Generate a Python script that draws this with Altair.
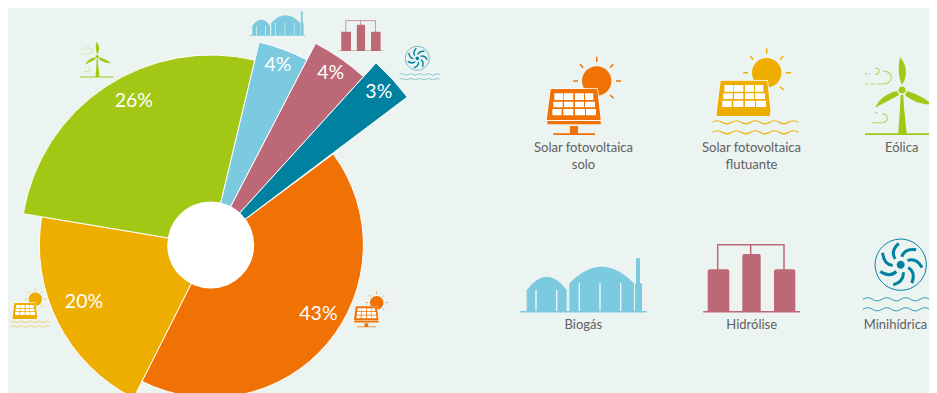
import math
import altair as alt
import pandas as pd

# ---------- data ----------
categories = ["Solar fotovoltaica solo", "Solar fotovoltaica flutuante", "Eólica", "Biogás", "Hidrólise", "Minihídrica"]
shares = [42.6, 20.2, 26.1, 3.9, 4.1, 3.0]
share_labels = ["43%", "20%", "26%", "4%", "4%", "3%"]
reach_rank = [0, 1, 2, 3, 4, 5]
colors = ["#f07204", "#eeae00", "#a2c815", "#7bcadf", "#bd6877", "#0081a0"]

BG = "#ecf4f1"
FONT = "Lato"
OX, OY = 8, 8   # page margin
W, H = 921, 385
CX, CY = 210.7 - OX, 245 - OY

starts, ends, mids = [], [], []
c = 0.0
for s in shares:
    starts.append(c)
    ends.append(c + s)
    mids.append(c + s / 2)
    c += s
pie = pd.DataFrame({"cat": categories, "start": starts, "end": ends, "mid": mids,
                    "rank": reach_rank, "label": share_labels})

A0 = math.radians(53.4)
theta_scale = alt.Scale(domain=[0, 100], range=[A0, A0 + 2 * math.pi])
color_scale = alt.Scale(domain=categories, range=colors)

arcs = alt.Chart(pie).mark_arc(stroke="#ffffff", strokeWidth=1).encode(
    x=alt.value(CX), y=alt.value(CY),
    theta=alt.Theta("start:Q", scale=theta_scale, stack=None),
    theta2="end:Q",
    radius=alt.Radius("rank:Q", scale=alt.Scale(type="linear", zero=False, domain=[0, 5], range=[152.7, 246])),
    radius2=alt.value(0),
    color=alt.Color("cat:N", scale=color_scale, legend=None),
)
hole = alt.Chart(pie.head(1)).mark_circle(size=7569, color="#ffffff", opacity=1).encode(
    x=alt.value(CX), y=alt.value(CY))

# label radius along the slice's mid angle, and small nudges
label_place = [(127.3, 10.3, -13.3), (138.8, -2.9, -5.7), (162.4, 12.9, -8.6),
               (192.2, 0, 0), (209.9, 0, 0), (227.5, 0, 0)]
layers = [arcs, hole]
for i, (r, ndx, ndy) in enumerate(label_place):
    layers.append(
        alt.Chart(pie.iloc[[i]]).mark_text(font=FONT, fontSize=19.5, color="#ffffff", align="center",
                                           baseline="middle", dx=ndx, dy=ndy).encode(
            x=alt.value(CX), y=alt.value(CY),
            theta=alt.Theta("mid:Q", scale=theta_scale, stack=None),
            radius=alt.value(r),
            text="label:N",
        ))


# ---------- icon helpers (paths in the big icon's page pixels) ----------
def rect(x0, y0, x1, y1):
    return [("M", [(x0, y0)]), ("L", [(x1, y0)]), ("L", [(x1, y1)]), ("L", [(x0, y1)]), ("Z", [])]

def poly(pts):
    return [("M", [pts[0]])] + [("L", [p]) for p in pts[1:]] + [("Z", [])]

def line(*pts):
    return [("M", [pts[0]])] + [("L", [p]) for p in pts[1:]]

def circle(cx, cy, r):
    k = 0.5523 * r
    return [("M", [(cx + r, cy)]),
            ("C", [(cx + r, cy + k), (cx + k, cy + r), (cx, cy + r)]),
            ("C", [(cx - k, cy + r), (cx - r, cy + k), (cx - r, cy)]),
            ("C", [(cx - r, cy - k), (cx - k, cy - r), (cx, cy - r)]),
            ("C", [(cx + k, cy - r), (cx + r, cy - k), (cx + r, cy)]), ("Z", [])]

def wave(x0, x1, y, period=19.0, amp=1.6):
    cmds = [("M", [(x0, y)])]
    x, sign = x0, -1
    while x < x1:
        cmds.append(("Q", [(x + period / 4, y + sign * 2 * amp), (x + period / 2, y)]))
        x += period / 2
        sign = -sign
    return cmds

def to_d(cmds, ax, ay):
    out = []
    for c_, pts in cmds:
        coords = " ".join(f"{(x - ax) / 100:.5f} {(y - ay) / 100:.5f}" for x, y in pts)
        out.append(f"{c_}{coords}")
    return " ".join(out)

def merge(*paths):
    res = []
    for p in paths:
        res += p
    return res

def solar_parts(col, dx, dy, lower):
    sx, sy = 596.7 + dx, 81 + dy
    rays = merge(
        line((sx, sy - 24.3), (sx, sy - 19.3)), line((sx - 23.4, sy), (sx - 18.7, sy)),
        line((sx + 19.3, sy), (sx + 24.3, sy)), line((sx - 16.7, sy - 16.7), (sx - 13.4, sy - 13.3)),
        line((sx + 16.6, sy - 16.7), (sx + 13.3, sy - 13.3)), line((sx + 13.3, sy + 14), (sx + 17, sy + 17.3)))
    white_q = [(550.2 + dx, 88.3 + dy), (597.9 + dx, 88.3 + dy), (601.6 + dx, 120.8 + dy), (545.8 + dx, 120.8 + dy)]
    quad = [(550.7 + dx, 89 + dy), (597.3 + dx, 89 + dy), (600.7 + dx, 120 + dy), (546.7 + dx, 120 + dy)]
    rows = [(160, 180, [(133, 160), (162, 190), (195, 222), (225, 250)]),
            (185, 202, [(130, 158), (162, 190), (195, 222), (225, 255)]),
            (207, 226, [(127, 155), (160, 190), (195, 225), (228, 258)])]
    cells = []
    for y0, y1, xs in rows:
        for x0, x1 in xs:
            cells += rect(510 + x0 / 3 + dx, 40 + y0 / 3 + dy, 510 + x1 / 3 + dx, 40 + y1 / 3 + dy)
    return [
        (merge(circle(sx, sy, 14.7)), dict(fill=col)),
        (rays, dict(stroke=col, sw=1.5)),
        (poly(white_q), dict(fill="#ffffff")),
        (merge(poly(quad), lower), dict(fill=col)),
        (cells, dict(fill="#ffffff")),
    ]

def solar_solo():
    c_ = colors[0]
    lower = merge(rect(547.3, 121, 600.7, 124.3), rect(570, 126, 578, 133.5), rect(553.3, 133.3, 595, 135))
    return solar_parts(c_, 0, 0, lower)

def solar_float():
    c_ = colors[1]
    lower = rect(716.7, 111.7, 770, 116)
    return solar_parts(c_, 170, -8.3, lower) + [
        (merge(wave(712.7, 790, 122.3), wave(712.7, 790, 132.3)), dict(stroke=c_, sw=1.1))]

def wind():
    c_ = colors[2]
    blades = merge(
        [("M", [(902, 85)]), ("C", [(908, 75), (907, 65), (900, 57.3)]), ("C", [(898, 67), (898, 77), (902, 85)]), ("Z", [])],
        [("M", [(898, 91)]), ("C", [(890, 92), (880, 97), (875, 107.7)]), ("C", [(884, 103), (892, 99), (899, 95)]), ("Z", [])],
        [("M", [(906, 91)]), ("C", [(915, 93), (925, 98), (931.7, 104.3)]), ("C", [(922, 105), (912, 101), (905, 95)]), ("Z", [])],
        poly([(900.7, 95), (903.3, 95), (904, 108), (906.7, 133.3), (898.3, 133.3), (900, 108)]),
        rect(865, 133.2, 937, 135))
    gust = merge(
        line((865, 73.7), (867, 73.7)), line((868.5, 73.7), (870, 73.7)),
        [("M", [(875, 74.3)]), ("C", [(880.5, 74.3), (880.5, 68.3), (875, 68.3)])],
        line((865, 84), (868, 84)), line((870, 84), (875, 84)),
        [("M", [(877, 84)]), ("L", [(883, 84)]), ("C", [(894, 84), (894, 71), (883, 71)])],
        line((875, 112.7), (878, 112.7)),
        [("M", [(872, 122.7)]), ("L", [(882, 122.7)]), ("C", [(889, 122.7), (889, 114), (882, 114)])])
    return [(gust, dict(stroke="#b5d465", sw=1.1)),
            (blades, dict(fill=c_)),
            (circle(902, 90, 5), dict(fill=BG)),
            (circle(902, 90, 3.6), dict(fill=c_))]

def biogas():
    c_ = colors[3]
    shape = merge(
        [("M", [(526.7, 311)]), ("L", [(526.7, 290)]), ("Q", [(546.7, 263.4), (566.7, 290)]), ("L", [(566.7, 311)]), ("Z", [])],
        [("M", [(569.3, 311)]), ("L", [(569.3, 283.3)]), ("Q", [(601.6, 250), (634, 283.3)]), ("L", [(634, 311)]), ("Z", [])],
        rect(636, 258.3, 640, 284), rect(635, 283.3, 642, 311), rect(520, 311, 646.7, 312.6))
    slots = merge(*[rect(x - 0.65, y, x + 0.65, 311) for x, y in
                    [(536, 290), (556.7, 290), (579.3, 283.3), (600, 283.3), (620.7, 283.3)]])
    return [(shape, dict(fill=c_)), (slots, dict(fill="#f4faf9"))]

def hydrolysis():
    c_ = colors[4]
    def tank(x0, x1, top):
        return [("M", [(x0, 311)]), ("L", [(x0, top + 2)]), ("Q", [(x0, top), (x0 + 2, top)]),
                ("L", [(x1 - 2, top)]), ("Q", [(x1, top), (x1, top + 2)]), ("L", [(x1, 311)]), ("Z", [])]
    tanks = merge(tank(707.7, 729.3, 269.3), tank(742.3, 760.7, 254), tank(774, 795.3, 269.3),
                  rect(703.3, 311, 800, 312.6))
    pipes = merge(line((717.7, 270), (717.7, 244.7), (784, 244.7), (784, 270)), line((750.7, 244.7), (750.7, 255)))
    return [(pipes, dict(stroke=c_, sw=1.5)), (tanks, dict(fill=c_))]

def hydro():
    c_ = colors[5]
    cx, cy = 900.7, 264.7
    blades = []
    for k in range(7):
        a = math.radians(k * 360 / 7 + 8)
        def pol(r, t):
            return (cx + r * math.sin(a + math.radians(t)), cy - r * math.cos(a + math.radians(t)))
        blades += [("M", [pol(8, 0)]), ("Q", [pol(17, 5), pol(21.5, 38)])]
    return [(circle(cx, cy, 25.6), dict(stroke=c_, sw=1.0)),
            (blades, dict(stroke=c_, sw=3.0)),
            (circle(cx, cy, 4), dict(fill=c_)),
            (merge(wave(863, 940, 299.3), wave(863, 940, 309.3)), dict(stroke="#2f9db5", sw=1.0))]


def place(parts, ax, ay, px, py, scale):
    """Draw parts, with big-icon point (ax, ay) put at page point (px, py)."""
    out = []
    size = (200 * scale) ** 2
    for cmds, st in parts:
        d = to_d(cmds, ax, ay)
        if "fill" in st:
            m = alt.Chart(pie.head(1)).mark_point(shape=d, size=size, filled=True, fill=st["fill"],
                                                  strokeWidth=0, opacity=1)
        else:
            m = alt.Chart(pie.head(1)).mark_point(shape=d, size=size, filled=False, fillOpacity=0,
                                                  stroke=st["stroke"], strokeWidth=max(st["sw"] * scale, 0.5),
                                                  opacity=1)
        out.append(m.encode(x=alt.value(px - OX), y=alt.value(py - OY)))
    return out


icons = [
    (solar_solo, 596.7, 81, 376.7, 302.7, 0.455),
    (solar_float, 766, 72.7, 35, 299.3, 0.455),
    (wind, 902, 90, 97.3, 56.7, 0.46),
    (biogas, 520, 311.7, 249.3, 35.3, 0.445),
    (hydrolysis, 703.3, 311.7, 339.3, 50.7, 0.449),
    (hydro, 900.7, 264.7, 417.3, 58.3, 0.467),
]
for fn, ax, ay, mx, my, sc in icons:
    layers += place(fn(), ax, ay, ax, ay, 1)
    layers += place(fn(), ax, ay, mx, my, sc)

# ---------- icon captions ----------
captions = [("Solar fotovoltaica", 583.5, 151.7), ("solo", 583.5, 169),
            ("Solar fotovoltaica", 751.5, 151.7), ("flutuante", 751.5, 169),
            ("Eólica", 901.7, 151.7),
            ("Biogás", 583.3, 329.3), ("Hidrólise", 751.7, 329.3), ("Minihídrica", 895.5, 329.3)]
for txt, x, y in captions:
    layers.append(alt.Chart(pie.head(1)).mark_text(font=FONT, fontSize=13, color="#5f6062", align="center",
                                                   baseline="alphabetic").encode(
        x=alt.value(x - OX), y=alt.value(y - OY), text=alt.value(txt)))

chart = alt.layer(*layers).properties(
    width=W, height=H, background=BG, padding=0,
    autosize=alt.AutoSizeParams(type="none"),
).configure_view(stroke=None)

chart.save("out.html", embed_options={"renderer": "svg", "actions": False})
